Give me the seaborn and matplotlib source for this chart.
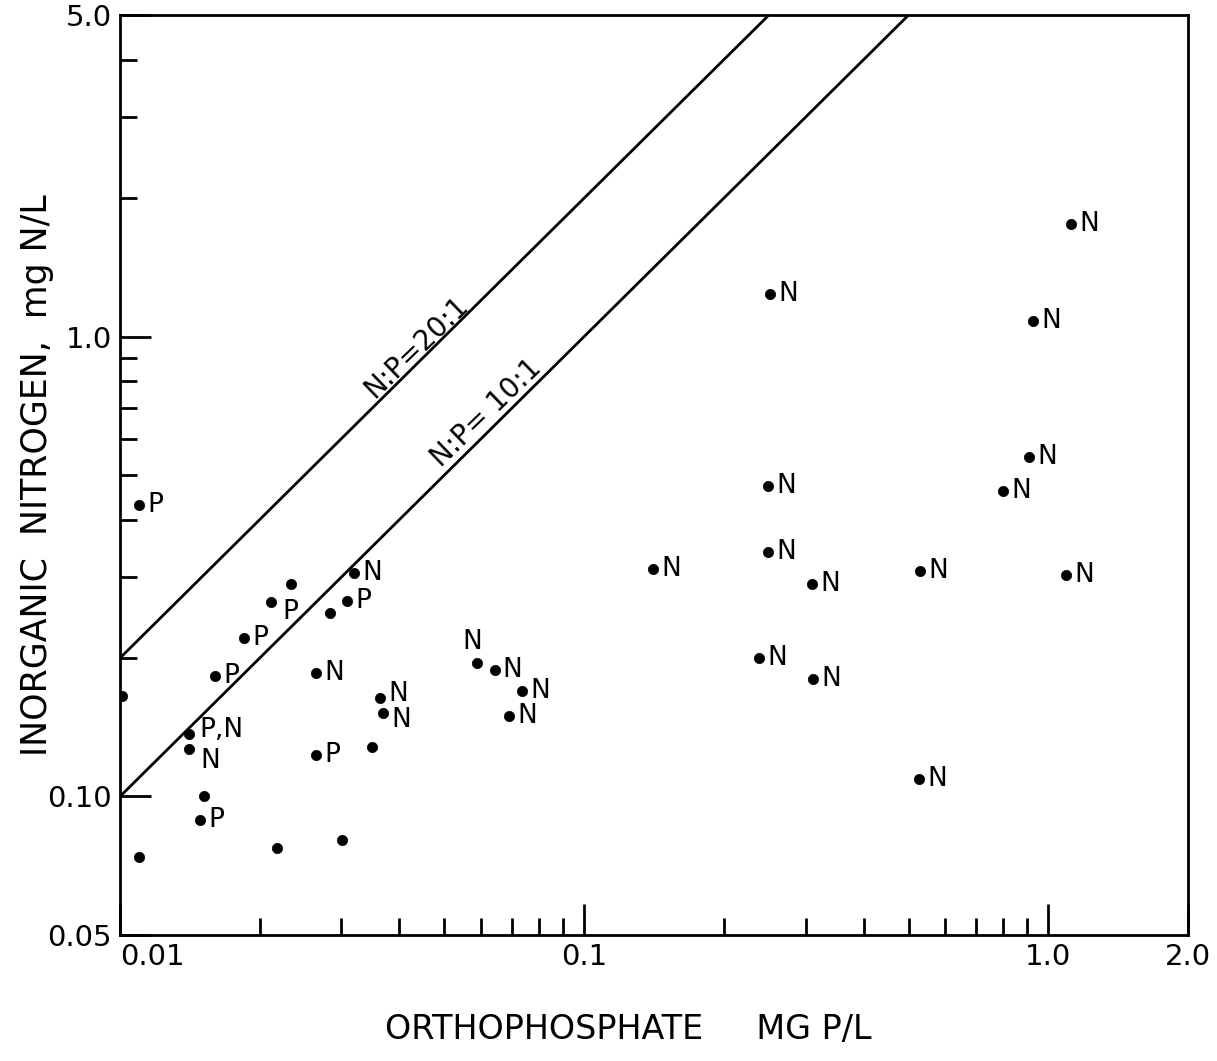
import numpy as np
import pandas as pd
import matplotlib
matplotlib.use("Agg")
import matplotlib.pyplot as plt
import seaborn as sns

# Data (orthophosphate mg P/L, inorganic nitrogen mg N/L)
phosphate = [0.0110, 0.0101, 0.0110, 0.0141, 0.0141, 0.0152, 0.0149, 0.0160,
             0.01846, 0.0212, 0.0233, 0.0284, 0.0308, 0.0319, 0.0265, 0.0363,
             0.0369, 0.0349, 0.0265, 0.0218, 0.0301, 0.0589, 0.0641, 0.0736,
             0.0690, 0.1406, 0.252, 0.249, 0.249, 0.310, 0.2386, 0.3116,
             0.530, 0.526, 0.929, 0.910, 0.80, 1.09, 1.12]
nitrogen = [0.431, 0.165, 0.074, 0.1365, 0.127, 0.100, 0.0891, 0.1825,
            0.221, 0.265, 0.290, 0.2505, 0.266, 0.306, 0.186, 0.1636,
            0.152, 0.128, 0.123, 0.0774, 0.0806, 0.195, 0.188, 0.170,
            0.150, 0.312, 1.24, 0.4735, 0.340, 0.290, 0.1998, 0.180,
            0.309, 0.109, 1.083, 0.548, 0.462, 0.303, 1.76]
limiting = ["P", "", "", "P,N", "N", "", "P", "P",
            "P", "P", "", "", "P", "N", "N", "N",
            "N", "", "P", "", "", "N", "N", "N",
            "N", "N", "N", "N", "N", "N", "N", "N",
            "N", "N", "N", "N", "N", "N", "N"]

ratios = [20, 10]
ratio_labels = ["N:P=20:1", "N:P= 10:1"]

x_ticks = [0.01, 0.1, 1.0, 2.0]
x_ticklabels = ["0.01", "0.1", "1.0", "2.0"]
y_ticks = [0.05, 0.10, 1.0, 5.0]
y_ticklabels = ["0.05", "0.10", "1.0", "5.0"]

df = pd.DataFrame({"P": phosphate, "N": nitrogen, "label": limiting})

sns.set_style("ticks")
plt.rcParams["font.family"] = ["DejaVu Sans"]
plt.rcParams["text.color"] = "black"
plt.rcParams["axes.labelcolor"] = "black"
plt.rcParams["xtick.color"] = "black"
plt.rcParams["ytick.color"] = "black"

fig = plt.figure(figsize=(12.17, 10.61), dpi=100)
ax = fig.add_axes([0.0986, 0.1188, 0.8776, 0.867])

# ratio lines
p_line = np.array([0.01, 2.0])
for r in ratios:
    sns.lineplot(x=p_line, y=r * p_line, ax=ax, color="black", linewidth=2.0)

sns.scatterplot(data=df, x="P", y="N", ax=ax, color="black", s=55,
                edgecolor="black", linewidth=0.5, zorder=3)

# label offsets in points (default: right of the dot)
default_off = (6, 0)
special_off = {3: (7, 3), 4: (8, -9), 9: (8, -7), 15: (6, 3), 16: (6, -5),
               21: (-4, 15)}
for i, row in df.iterrows():
    if not row["label"]:
        continue
    off = special_off.get(i, default_off)
    ha = "center" if i == 21 else "left"
    ax.annotate(row["label"], (row["P"], row["N"]), xytext=off,
                textcoords="offset points", ha=ha, va="center",
                fontsize=19, color="black")

ax.set_xscale("log")
ax.set_yscale("log")
ax.set_xlim(0.01, 2.0)
ax.set_ylim(0.05, 5.0)

# ratio line labels
ax.text(0.0435, 0.95, ratio_labels[0], rotation=44, rotation_mode="anchor",
        ha="center", va="center", fontsize=20)
ax.text(0.0617, 0.68, ratio_labels[1], rotation=44, rotation_mode="anchor",
        ha="center", va="center", fontsize=20)

# ticks
ax.xaxis.set_major_locator(matplotlib.ticker.FixedLocator(x_ticks))
ax.xaxis.set_major_formatter(matplotlib.ticker.FixedFormatter(x_ticklabels))
ax.xaxis.set_minor_locator(matplotlib.ticker.FixedLocator(
    [m * d for d in (0.01, 0.1) for m in range(2, 10)]))
ax.xaxis.set_minor_formatter(matplotlib.ticker.NullFormatter())
ax.yaxis.set_major_locator(matplotlib.ticker.FixedLocator(y_ticks))
ax.yaxis.set_major_formatter(matplotlib.ticker.FixedFormatter(y_ticklabels))
ax.yaxis.set_minor_locator(matplotlib.ticker.FixedLocator(
    [m * 0.1 for m in range(2, 10)] + [2.0, 3.0, 4.0]))
ax.yaxis.set_minor_formatter(matplotlib.ticker.NullFormatter())

ax.tick_params(which="both", direction="in", top=False, right=False,
               width=2, color="black", labelsize=21, pad=6)
ax.tick_params(which="major", length=22)
ax.tick_params(which="minor", length=12)
for s in ax.spines.values():
    s.set_linewidth(2)
    s.set_color("black")

# keep the 0.01 label clear of the 0.05 label at the corner
fig.canvas.draw()
ax.get_xticklabels()[0].set_horizontalalignment("left")

ax.set_xlabel("ORTHOPHOSPHATE     MG P/L", fontsize=24)
ax.set_ylabel("INORGANIC  NITROGEN,  mg N/L", fontsize=25)
ax.xaxis.set_label_coords(0.476, -0.085)
ax.yaxis.set_label_coords(-0.062, 0.5)

fig.savefig("out.png", dpi=100, facecolor="white")
